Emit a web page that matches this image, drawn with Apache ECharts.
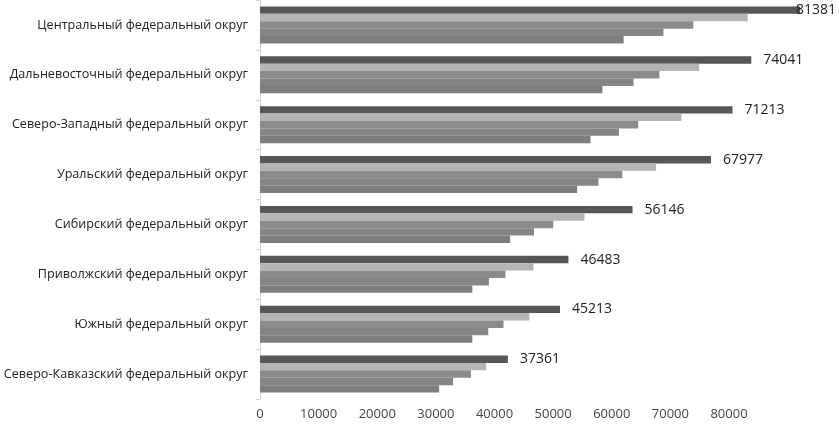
<!DOCTYPE html>
<html>
<head>
<meta charset="utf-8">
<script src="https://cdn.jsdelivr.net/npm/echarts@6/dist/echarts.min.js"></script>
<style>
    html, body { margin: 0; padding: 0; background: #fff; }
    #container { width: 839px; height: 426px; }
</style>
</head>
<body>
<div id="container"></div>
<script type="text/javascript">
    // округа сверху вниз
    var regions = [
        'Центральный федеральный округ',
        'Дальневосточный федеральный округ',
        'Северо-Западный федеральный округ',
        'Уральский федеральный округ',
        'Сибирский федеральный округ',
        'Приволжский федеральный округ',
        'Южный федеральный округ',
        'Северо-Кавказский федеральный округ'
    ];
    // пять рядов в каждой группе, сверху вниз
    var row1 = [81381, 74041, 71213, 67977, 56146, 46483, 45213, 37361];
    var row2 = [73500, 66200, 63500, 59700, 48900, 41200, 40600, 34100];
    var row3 = [65300, 60200, 57000, 54600, 44200, 37000, 36700, 31800];
    var row4 = [60800, 56300, 54100, 51000, 41300, 34500, 34400, 29100];
    var row5 = [54800, 51600, 49800, 47800, 37700, 32000, 32000, 27000];
    var tickValues = [0, 10000, 20000, 30000, 40000, 50000, 60000, 70000, 80000];

    var rows = [row1, row2, row3, row4, row5];
    var colors = ['#575757', '#b4b4b4', '#8b8b8b', '#858585', '#7e7e7e'];
    var font = '"Open Sans", "DejaVu Sans", sans-serif';

    var myChart = echarts.init(document.getElementById('container'));

    var series = rows.map(function (row, i) {
        var s = {
            type: 'bar',
            xAxisIndex: 0,
            yAxisIndex: 0,
            barGap: '0%',
            barCategoryGap: '26%',
            itemStyle: { color: colors[i] },
            silent: true,
            data: row
        };
        if (i === 0) {
            var maxV = Math.max.apply(null, row);
            s.label = {
                show: true,
                position: 'right',
                distance: 12,
                color: '#222',
                fontSize: 14,
                fontFamily: font
            };
            // самая длинная подпись сдвинута внутрь, как в оригинале
            s.data = row.map(function (v) {
                return v === maxV ? { value: v, label: { distance: -4 } } : v;
            });
        }
        return s;
    });

    var option = {
        animation: false,
        grid: [
            { left: 260, right: 15, top: 0, bottom: 27, outerBoundsMode: 'none' },
            { left: 260, width: 469, top: 0, bottom: 27, outerBoundsMode: 'none' }
        ],
        xAxis: [
            {
                gridIndex: 0, type: 'value', min: 0, max: 85000,
                axisLine: { show: false }, axisTick: { show: false },
                axisLabel: { show: false }, splitLine: { show: false }
            },
            {
                gridIndex: 1, type: 'value', min: 0, max: tickValues[tickValues.length - 1],
                interval: 10000,
                axisLine: { show: false }, axisTick: { show: false },
                splitLine: { show: false },
                axisLabel: {
                    color: '#444', fontSize: 13, fontFamily: font, margin: 9,
                    formatter: function (v) { return String(v); }
                }
            }
        ],
        yAxis: [
            {
                gridIndex: 0, type: 'category', inverse: true, data: regions,
                axisLine: { lineStyle: { color: '#d4d4d4' } },
                axisTick: { show: true, length: 4, lineStyle: { color: '#d4d4d4' } },
                axisLabel: { color: '#222', fontSize: 12.6, fontFamily: font, margin: 12 }
            },
            {
                gridIndex: 1, type: 'category', data: regions, show: false
            }
        ],
        series: series
    };

    myChart.setOption(option);
</script>
</body>
</html>
